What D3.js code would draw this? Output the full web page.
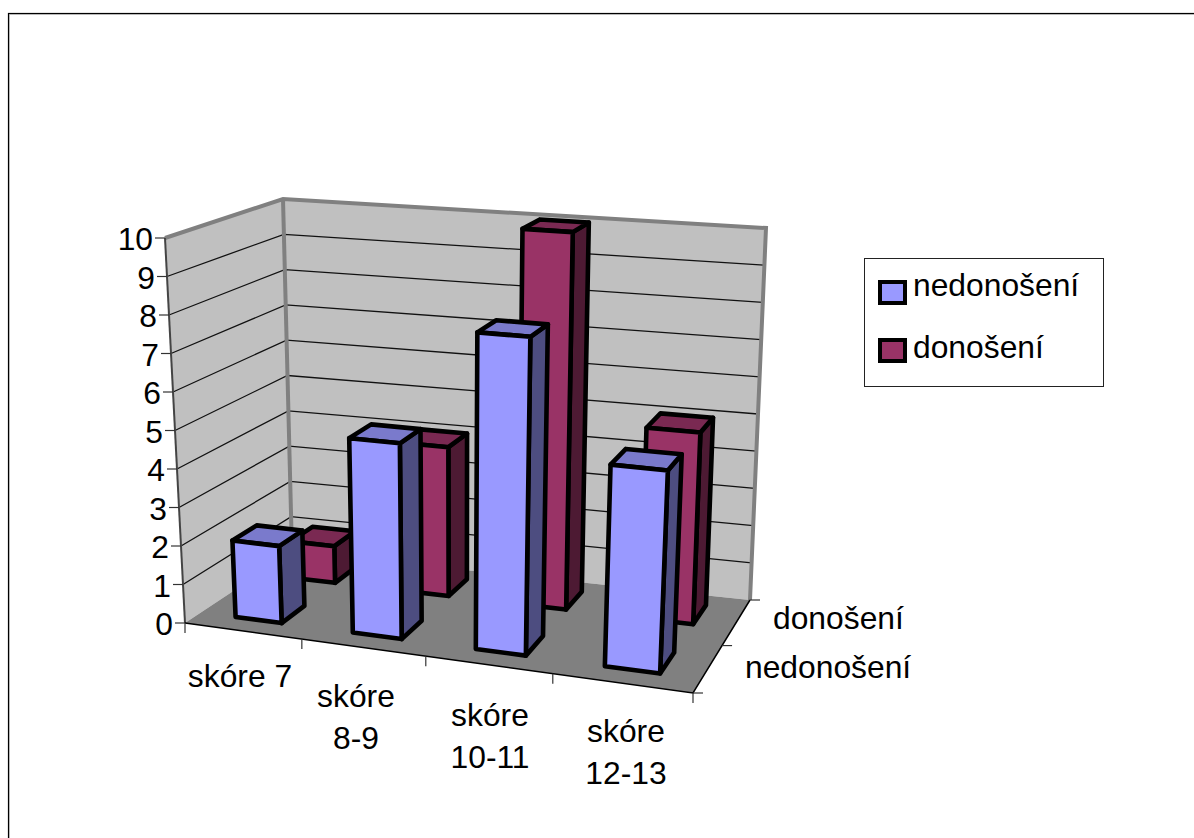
<!DOCTYPE html>
<html>
<head>
<meta charset="utf-8">
<script src="https://cdn.jsdelivr.net/npm/d3@7"></script>
<style>
  html, body { margin: 0; padding: 0; background: #fff; }
  text { font-family: "Liberation Sans", Arial, sans-serif; font-size: 31.8px; fill: #000; }
</style>
</head>
<body>
<div id="chart"></div>
<script>
// data
const categories = [["skóre 7"], ["skóre", "8-9"], ["skóre", "10-11"], ["skóre", "12-13"]];
const seriesNames = ["nedonošení", "donošení"];
const nedonoseni = [2, 5, 8, 5];
const donoseni = [1, 4, 10, 5];
const valueTicks = d3.range(0, 11);

const WIDTH = 1194;
const HEIGHT = 838;

// corners of the plot box on screen
const CORNERS = {
  frontBottomLeft: [185, 623],
  frontBottomRight: [693, 693],
  backBottomLeft: [292, 552],
  backBottomRight: [750, 600],
  frontTopLeft: [165, 238],
  frontTopRight: [712, 278],
  backTopLeft: [283, 199],
  backTopRight: [766, 228],
};

// scales into the unit cube; the steps fake the perspective of the original
const x = d3.scaleLinear().domain([0, 1, 2, 3, 4]).range([0, 0.23, 0.474, 0.724, 1]);
const y = d3.scaleLinear().domain([0, 10]).range([0, 1]);
const z = d3.scaleLinear().domain([0, 0.3, 0.7, 1, 1.3, 1.7, 2]).range([0, 0.15, 0.38, 0.51, 0.69, 0.9, 1]);

const mix = (a, b, t) => [a[0] + (b[0] - a[0]) * t, a[1] + (b[1] - a[1]) * t];

// category, value, depth -> screen
function project(cx, val, cz) {
  const u = x(cx), v = y(val), w = z(cz);
  const c = CORNERS;
  const bottom = mix(
    mix(c.frontBottomLeft, c.frontBottomRight, u),
    mix(c.backBottomLeft, c.backBottomRight, u),
    w
  );
  const top = mix(
    mix(c.frontTopLeft, c.frontTopRight, u),
    mix(c.backTopLeft, c.backTopRight, u),
    w
  );
  return mix(bottom, top, v);
}

const poly = (pts) => d3.line()(pts) + "Z";

const svg = d3
  .select("#chart")
  .append("svg")
  .attr("width", WIDTH)
  .attr("height", HEIGHT)
  .style("display", "block");

// outer frame, black with a faint grey edge inside
svg.append("rect")
  .attr("x", 9.5).attr("y", 14.5)
  .attr("width", WIDTH).attr("height", HEIGHT)
  .attr("fill", "none").attr("stroke", "#ccc").attr("stroke-width", 1);
svg.append("rect")
  .attr("x", 8.5).attr("y", 13.5)
  .attr("width", WIDTH).attr("height", HEIGHT)
  .attr("fill", "none").attr("stroke", "#000").attr("stroke-width", 1.2);

// walls and floor
const leftWall = [project(0, 0, 0), project(0, 10, 0), project(0, 10, 2), project(0, 0, 2)];
const backWall = [project(0, 0, 2), project(0, 10, 2), project(4, 10, 2), project(4, 0, 2)];
const floor = [project(0, 0, 0), project(4, 0, 0), project(4, 0, 2), project(0, 0, 2)];

svg.append("path").attr("d", poly(leftWall)).attr("fill", "#c0c0c0");
svg.append("path").attr("d", poly(backWall)).attr("fill", "#c0c0c0");

// gridlines
valueTicks.slice(1, -1).forEach((t) => {
  svg.append("path")
    .attr("d", d3.line()([project(0, t, 0), project(0, t, 2), project(4, t, 2)]))
    .attr("fill", "none").attr("stroke", "#111").attr("stroke-width", 1.3);
});

svg.append("path").attr("d", poly(floor)).attr("fill", "#808080");

// thick grey wall edges
svg.append("path")
  .attr("d", d3.line()([project(0, 10, 0), project(0, 10, 2), project(4, 10, 2), project(4, 0, 2)]))
  .attr("fill", "none").attr("stroke", "#808080").attr("stroke-width", 4);
svg.append("path")
  .attr("d", d3.line()([project(0, 10, 2), project(0, 0, 2)]))
  .attr("fill", "none").attr("stroke", "#808080").attr("stroke-width", 4);
svg.append("path")
  .attr("d", d3.line()([project(0, 10, 0), project(0, 0, 0)]))
  .attr("fill", "none").attr("stroke", "#444").attr("stroke-width", 2);

// floor edges
svg.append("path")
  .attr("d", d3.line()([project(0, 0, 0), project(4, 0, 0), project(4, 0, 2)]))
  .attr("fill", "none").attr("stroke", "#000").attr("stroke-width", 1.5);

// ticks
const tick = (p, dx, dy) =>
  svg.append("line")
    .attr("x1", p[0]).attr("y1", p[1])
    .attr("x2", p[0] + dx).attr("y2", p[1] + dy)
    .attr("stroke", "#333").attr("stroke-width", 1.2);

valueTicks.forEach((t) => {
  const p = project(0, t, 0);
  tick(p, -10, 0);
  svg.append("text")
    .attr("x", p[0] - 12).attr("y", p[1] + 12)
    .attr("text-anchor", "end")
    .text(t);
});
d3.range(0, 5).forEach((c) => tick(project(c, 0, 0), 0, 10));
d3.range(0, 3).forEach((d) => tick(project(4, 0, d), 10, 0));

// bars, back row first. gap depth and gap width are both 150%
const BAR_START = 0.3;
const BAR_END = 0.7;
const rows = [
  { name: seriesNames[1], values: donoseni, row: 1, front: "#993366", top: "#7a2952", side: "#4d1a33" },
  { name: seriesNames[0], values: nedonoseni, row: 0, front: "#9999ff", top: "#7a7acc", side: "#4d4d80" },
];

rows.forEach((s) => {
  const g = svg.append("g").attr("class", "series");
  s.values.forEach((val, i) => {
    const x0 = i + BAR_START, x1 = i + BAR_END;
    const z0 = s.row + BAR_START, z1 = s.row + BAR_END;
    const faces = [
      { fill: s.side, pts: [project(x1, 0, z0), project(x1, 0, z1), project(x1, val, z1), project(x1, val, z0)] },
      { fill: s.top, pts: [project(x0, val, z0), project(x1, val, z0), project(x1, val, z1), project(x0, val, z1)] },
      { fill: s.front, pts: [project(x0, 0, z0), project(x1, 0, z0), project(x1, val, z0), project(x0, val, z0)] },
    ];
    g.selectAll(null)
      .data(faces)
      .enter()
      .append("path")
      .attr("d", (d) => poly(d.pts))
      .attr("fill", (d) => d.fill)
      .attr("stroke", "#000")
      .attr("stroke-width", 4.6)
      .attr("stroke-linejoin", "round");
  });
});

// category labels
const catLabelPos = [
  { x: 240, y: 687 },
  { x: 356, y: 707 },
  { x: 490, y: 726 },
  { x: 626, y: 742 },
];
categories.forEach((lines, i) => {
  lines.forEach((line, j) => {
    svg.append("text")
      .attr("x", catLabelPos[i].x)
      .attr("y", catLabelPos[i].y + j * 42)
      .attr("text-anchor", "middle")
      .text(line);
  });
});

// depth labels
svg.append("text").attr("x", 773).attr("y", 629).text(seriesNames[1]);
svg.append("text").attr("x", 745).attr("y", 678).text(seriesNames[0]);

// legend
const legend = svg.append("g").attr("class", "legend");
legend.append("rect")
  .attr("x", 864.5).attr("y", 258.5)
  .attr("width", 239).attr("height", 128)
  .attr("fill", "#fff").attr("stroke", "#222").attr("stroke-width", 1);
[
  { name: seriesNames[0], color: "#9999ff", sy: 282, ty: 296 },
  { name: seriesNames[1], color: "#993366", sy: 340, ty: 358 },
].forEach((d) => {
  legend.append("rect")
    .attr("x", 880).attr("y", d.sy)
    .attr("width", 25).attr("height", 21)
    .attr("fill", d.color).attr("stroke", "#000").attr("stroke-width", 4);
  legend.append("text").attr("x", 913).attr("y", d.ty).text(d.name);
});
</script>
</body>
</html>
